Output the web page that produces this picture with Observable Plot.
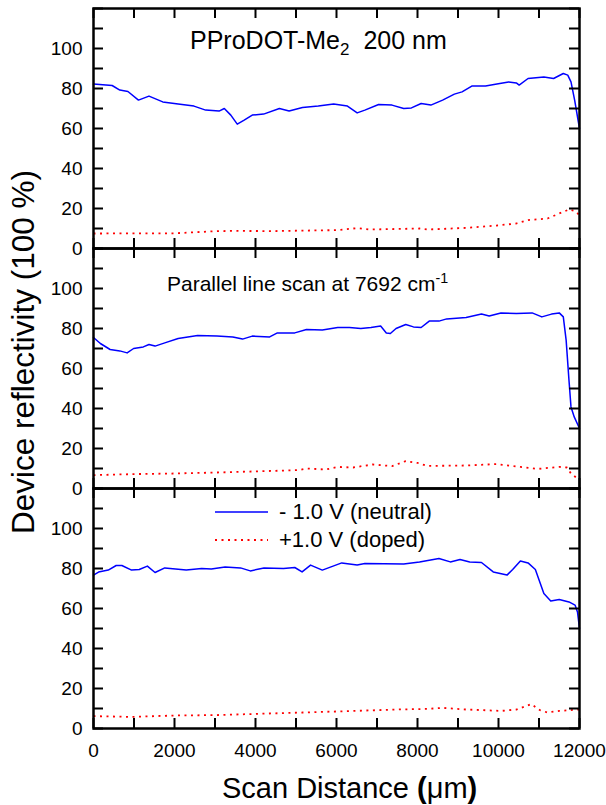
<!DOCTYPE html>
<html>
<head>
<meta charset="utf-8">
<script src="https://cdn.jsdelivr.net/npm/d3@7"></script>
<script src="https://cdn.jsdelivr.net/npm/@observablehq/plot@0.6"></script>
<style>
  html, body { margin: 0; padding: 0; background: #fff; }
  #wrap { position: relative; width: 606px; height: 805px; font-family: "Liberation Sans", Arial, sans-serif; color: #000; }
  #wrap svg { display: block; }
  .ov { position: absolute; white-space: nowrap; line-height: 1; }
  sub, sup { font-size: 0.68em; line-height: 0; }
</style>
</head>
<body>
<div id="wrap"></div>
<script>
// ---------- data ----------
const panels = ["top", "middle", "bottom"];
const seriesNames = ["- 1.0 V (neutral)", "+1.0 V (doped)"];

const topNeutral = [[0,82.2],[460,81.5],[650,79.2],[850,78.5],[1110,74.2],[1370,76.2],[1710,73.3],[2090,72.2],[2480,71.2],[2770,69.2],[3100,68.7],[3230,70],[3390,66.7],[3550,62.2],[3720,64.2],[3920,66.7],[4200,67.2],[4590,70],[4830,68.8],[5160,70.5],[5550,71.2],[5930,72.2],[6270,71.2],[6510,67.8],[6700,69.2],[7040,72],[7370,71.7],[7660,70],[7850,70.3],[8090,72.5],[8330,71.7],[8620,74.2],[8910,77.2],[9100,78.3],[9340,81.2],[9680,81.2],[9960,82.2],[10250,83.3],[10440,82.8],[10510,81.7],[10730,85],[11120,85.8],[11360,85],[11600,87.5],[11710,86.7],[11790,83.3],[11880,74.2],[12000,60]];
const topDoped = [[0,7.5],[2000,7.6],[3050,8.7],[3500,8.8],[4400,8.7],[6030,9.2],[6510,10.2],[6800,9.5],[8050,10],[8250,9.5],[9200,10.3],[9960,11.5],[10440,12.5],[10730,14.2],[11210,15],[11500,17.5],[11740,19.5],[11880,18.8],[12000,16.7]];

const midNeutral = [[0,75.5],[170,72.5],[410,69.5],[650,68.8],[830,67.8],[990,70],[1230,70.8],[1370,72],[1520,71.2],[1760,72.8],[2090,75],[2570,76.5],[3050,76.2],[3440,75.8],[3680,74.7],[3920,76.2],[4350,75.8],[4540,77.8],[4970,77.8],[5260,79.5],[5650,79.2],[6030,80.5],[6320,80.5],[6600,80],[6850,80.5],[7090,81.2],[7230,77.8],[7330,77.5],[7470,80],[7710,82],[7900,80.8],[8090,80.5],[8290,83.7],[8530,83.7],[8720,84.8],[9200,85.5],[9580,87.2],[9770,86.3],[10060,87.8],[10440,87.5],[10830,87.8],[11070,85.8],[11310,87.2],[11500,87.8],[11600,85.8],[11670,74.2],[11740,54.2],[11790,40.8],[11870,35.8],[12000,30]];
const midDoped = [[0,6.7],[990,7.2],[2000,7.5],[3050,8],[4400,8.8],[5070,9.2],[5260,10],[5740,9.5],[6030,10.8],[6410,10.5],[6890,12],[7370,11.2],[7710,13.7],[8000,12.8],[8240,11.3],[9200,11.5],[9960,12.2],[10540,10.8],[10970,9.8],[11500,10.8],[11690,10.5],[11790,7.5],[12000,4.2]];

const botNeutral = [[0,76.7],[125,78.2],[365,79.2],[560,81.5],[700,81.5],[940,79.2],[1130,79.5],[1330,81.2],[1520,78],[1760,80.3],[2290,79.2],[2670,80],[2910,79.7],[3250,80.8],[3630,80.3],[3870,78.8],[4210,80.3],[4690,80],[4970,80.5],[5150,78.3],[5360,81.7],[5650,79.2],[6130,82.8],[6510,81.7],[6700,82.5],[7660,82.2],[8050,83.3],[8530,85],[8810,83.3],[9050,84.5],[9290,83.3],[9580,83],[9870,78.3],[10210,76.7],[10350,79.5],[10540,83.8],[10730,82.8],[10910,79.5],[11120,67.5],[11290,63.8],[11500,64.5],[11740,63.3],[11890,61.7],[11950,58.3],[12000,50]];
const botDoped = [[0,6.2],[940,5.8],[2000,6.5],[3010,6.7],[4010,7.3],[5170,8],[6320,8.7],[7470,9.5],[8240,9.8],[8620,10.3],[9200,9.5],[10060,8.8],[10450,9.5],[10810,12.2],[11020,9.2],[11210,8],[11500,8.8],[12000,9.5]];

const xTickLabels = [0, 2000, 4000, 6000, 8000, 10000, 12000];
const xMinorTicks = [0,1000,2000,3000,4000,5000,6000,7000,8000,9000,10000,11000,12000];
const yTickLabels = [0, 20, 40, 60, 80, 100];
const yMinorTicks = [0,10,20,30,40,50,60,70,80,90,100,110,120];

const colors = {neutral: "#0000ff", doped: "#ff0000"};

// ---------- build table ----------
const sets = [
  [panels[0], seriesNames[0], topNeutral], [panels[0], seriesNames[1], topDoped],
  [panels[1], seriesNames[0], midNeutral], [panels[1], seriesNames[1], midDoped],
  [panels[2], seriesNames[0], botNeutral], [panels[2], seriesNames[1], botDoped]
];
const rows = sets.flatMap(([panel, series, pts]) => pts.map(([x, y]) => ({panel, series, x, y})));
const neutralRows = rows.filter(d => d.series === seriesNames[0]);
const dopedRows = rows.filter(d => d.series === seriesNames[1]);

// ---------- layout ----------
const W = 606, H = 760;
const mL = 93, mR = 27, mT = 8, mB = 32;
const plotW = W - mL - mR;
const facetH = (H - mT - mB) / panels.length;
const tickLen = 10;

const chart = Plot.plot({
  width: W, height: H,
  marginLeft: mL, marginRight: mR, marginTop: mT, marginBottom: mB,
  style: {fontFamily: "'Liberation Sans', Arial, sans-serif", color: "#000", background: "#fff"},
  x: {domain: [0, 12000]},
  y: {domain: [0, 120]},
  fy: {domain: panels, padding: 0, axis: null},
  marks: [
    Plot.line(dopedRows, {x: "x", y: "y", fy: "panel", stroke: colors.doped, strokeWidth: 1.8, strokeDasharray: "2,4.5", strokeLinecap: "butt"}),
    Plot.line(neutralRows, {x: "x", y: "y", fy: "panel", stroke: colors.neutral, strokeWidth: 1.5}),
    // inward ticks on all four sides
    Plot.tickY(yMinorTicks, {y: d => d, insetRight: plotW - tickLen, stroke: "#000", strokeWidth: 2}),
    Plot.tickY(yMinorTicks, {y: d => d, insetLeft: plotW - tickLen, stroke: "#000", strokeWidth: 2}),
    Plot.tickX(xMinorTicks, {x: d => d, insetBottom: facetH - tickLen, stroke: "#000", strokeWidth: 2}),
    Plot.tickX(xMinorTicks, {x: d => d, insetTop: facetH - tickLen, stroke: "#000", strokeWidth: 2}),
    Plot.frame({stroke: "#000", strokeWidth: 2.5}),
    Plot.axisY({ticks: yTickLabels, tickSize: 0, tickPadding: 11, fontSize: 19, label: null, tickFormat: d => String(d)}),
    Plot.axisX({ticks: xTickLabels, tickSize: 0, tickPadding: 15, fontSize: 19, label: null, tickFormat: d => String(d)})
  ]
});

const wrap = document.getElementById("wrap");
wrap.appendChild(chart);

// ---------- overlays: panel titles, legend, axis titles ----------
function addDiv(html, css) {
  const d = document.createElement("div");
  d.className = "ov";
  d.innerHTML = html;
  Object.assign(d.style, css);
  wrap.appendChild(d);
  return d;
}
addDiv("PProDOT-Me<sub>2</sub>&nbsp;&nbsp;200 nm", {left: "190px", top: "40px", fontSize: "25px", transform: "translateY(-50%)"});
addDiv("Parallel line scan at 7692 cm<sup>-1</sup>", {left: "167px", top: "283px", fontSize: "21px", transform: "translateY(-50%)"});

// legend
const legendItems = [
  {label: seriesNames[0], color: colors.neutral, dash: null, y: 512},
  {label: seriesNames[1], color: colors.doped, dash: "2,4.5", y: 540}
];
legendItems.forEach(it => {
  const s = document.createElementNS("http://www.w3.org/2000/svg", "svg");
  s.setAttribute("width", "56"); s.setAttribute("height", "10");
  s.style.position = "absolute"; s.style.left = "214px"; s.style.top = (it.y - 5) + "px";
  const l = document.createElementNS("http://www.w3.org/2000/svg", "line");
  l.setAttribute("x1", 1); l.setAttribute("x2", 54); l.setAttribute("y1", 5); l.setAttribute("y2", 5);
  l.setAttribute("stroke", it.color); l.setAttribute("stroke-width", it.dash ? 1.8 : 1.5);
  if (it.dash) l.setAttribute("stroke-dasharray", it.dash);
  s.appendChild(l);
  wrap.appendChild(s);
  addDiv(it.label, {left: "279px", top: it.y + "px", fontSize: "22px", transform: "translateY(-50%)"});
});

// axis titles
addDiv("Device reflectivity (100 %)", {left: "24px", top: "352px", fontSize: "31.5px", transform: "translate(-50%,-50%) rotate(-90deg)"});
addDiv("Scan Distance <b>(</b>&mu;m<b>)</b>", {left: "222px", top: "788px", fontSize: "29px", transform: "translateY(-50%)"});
</script>
</body>
</html>
